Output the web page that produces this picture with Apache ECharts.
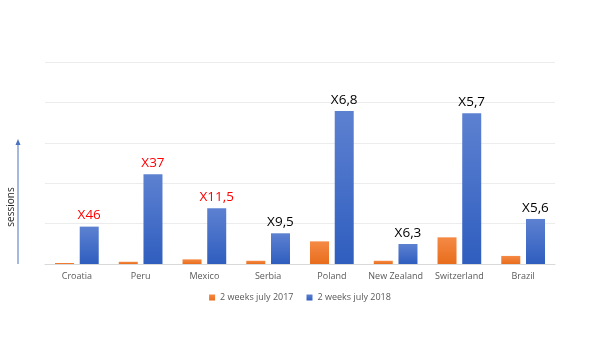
<!DOCTYPE html>
<html><head><meta charset="utf-8">
<script src="https://cdn.jsdelivr.net/npm/echarts@6/dist/echarts.min.js"></script>
<style>html,body{margin:0;padding:0;background:#fff}#c{width:600px;height:338px}</style>
</head><body><div id="c"></div>
<script>
const categories = ['Croatia','Peru','Mexico','Serbia','Poland','New Zealand','Switzerland','Brazil'];
const seriesNames = ['2 weeks july 2017','2 weeks july 2018'];
const values2017 = [0.5, 1.1, 2.3, 1.6, 11.2, 1.6, 13.2, 4.0];
const values2018 = [18.5, 44.4, 27.6, 15.2, 75.7, 9.9, 74.6, 22.3];
const growthLabels = ['X46','X37','X11,5','X9,5','X6,8','X6,3','X5,7','X5,6'];
const labelColors = ['#ff0000','#ff0000','#ff0000','#000000','#000000','#000000','#000000','#000000'];

const font = '"Open Sans", "Noto Sans", sans-serif';
const chart = echarts.init(document.getElementById('c'));
chart.setOption({
  animation: false,
  textStyle: {fontFamily: font},
  grid: {left: 45, right: 45, top: 62, bottom: 74},
  legend: {
    bottom: 31, left: 'center', itemWidth: 6, itemHeight: 6, itemGap: 13, icon: 'rect',
    textStyle: {fontSize: 9, color: '#595959', fontFamily: font},
    data: seriesNames
  },
  xAxis: {
    type: 'category', data: categories,
    axisLine: {lineStyle: {color: '#d9d9d9'}}, axisTick: {show: false},
    axisLabel: {fontSize: 9, color: '#595959', margin: 8, interval: 0}
  },
  yAxis: {
    type: 'value', min: 0, max: 100, interval: 20,
    axisLabel: {show: false}, axisLine: {show: false}, axisTick: {show: false},
    splitLine: {lineStyle: {color: '#ececec'}}
  },
  series: [
    {
      name: seriesNames[0], type: 'bar', data: values2017, barWidth: 19, barGap: '30%',
      itemStyle: {color: new echarts.graphic.LinearGradient(0,0,0,1,[{offset:0,color:'#f58a45'},{offset:1,color:'#e86d1c'}])}
    },
    {
      name: seriesNames[1], type: 'bar', barWidth: 19,
      data: values2018.map((v,i)=>({value:v, label:{formatter: growthLabels[i], color: labelColors[i]}})),
      itemStyle: {color: new echarts.graphic.LinearGradient(0,0,0,1,[{offset:0,color:'#5d81d1'},{offset:1,color:'#2f5ebf'}])},
      label: {show: true, position: 'top', distance: 4, fontSize: 13.5, fontFamily: font}
    }
  ],
  graphic: [
    {type:'line', shape:{x1:18,y1:264,x2:18,y2:144}, style:{stroke:'#4a72c0', lineWidth:1}},
    {type:'polygon', shape:{points:[[18,139],[15.5,145],[20.5,145]]}, style:{fill:'#4a72c0'}},
    {type:'text', x:11, y:207, rotation: Math.PI/2, style:{text:'sessions', fontSize:10, fill:'#222', fontFamily: font, align:'center', verticalAlign:'middle'}}
  ]
});
</script></body></html>
